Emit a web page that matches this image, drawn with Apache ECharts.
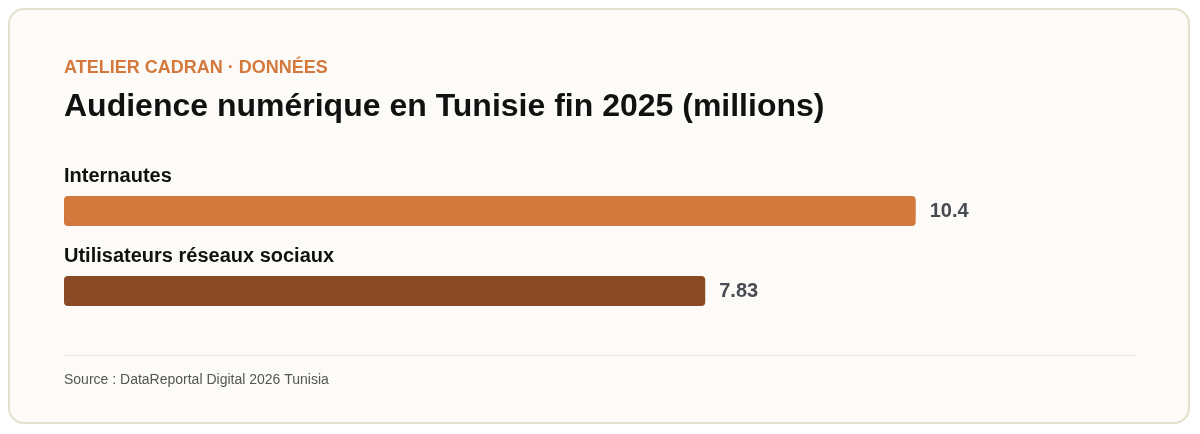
<!DOCTYPE html>
<html>
<head>
<meta charset="utf-8">
<script src="https://cdn.jsdelivr.net/npm/echarts@6/dist/echarts.min.js"></script>
<style>
  html, body { margin: 0; padding: 0; background: #ffffff; }
  #card {
    position: absolute; left: 8px; top: 8px; width: 1182px; height: 416px;
    border: 2px solid #e3dfcc; border-radius: 16px; background: #fcfbf7;
    box-sizing: border-box; overflow: hidden;
  }
  #chart { position: absolute; left: -10px; top: -10px; width: 1200px; height: 434px; }
</style>
</head>
<body>
<div id="card"><div id="chart"></div></div>
<script>
const categories = ["Internautes", "Utilisateurs réseaux sociaux"];
const values = [10.4, 7.83];
const barColors = ["#d4793d", "#8b4a26"];

const chart = echarts.init(document.getElementById("chart"));
const font = "Liberation Sans, Arial, sans-serif";

chart.setOption({
  animation: false,
  grid: { left: 64, top: 171, width: 1072, height: 160 },
  xAxis: { type: "value", min: 0, max: 13.09, show: false },
  yAxis: { type: "category", data: categories, inverse: true, show: false },
  series: [
    {
      type: "bar",
      barWidth: 30,
      data: values.map((v, i) => ({
        value: v,
        itemStyle: { color: barColors[i], borderRadius: 4 },
      })),
      label: {
        show: true,
        position: "right",
        distance: 14,
        color: "#474c52",
        fontSize: 20,
        fontWeight: "bold",
        fontFamily: font,
      },
    },
    {
      type: "bar",
      barWidth: 30,
      barGap: "-100%",
      silent: true,
      data: values,
      itemStyle: { color: "transparent" },
      label: {
        show: true,
        position: [0, -30],
        formatter: "{b}",
        color: "#111111",
        fontSize: 20,
        fontWeight: "bold",
        fontFamily: font,
      },
    },
  ],
  graphic: [
    {
      type: "text", left: 64, top: 59,
      style: {
        text: "ATELIER CADRAN · DONNÉES", fill: "#d4793d",
        font: "bold 18px " + font,
      },
    },
    {
      type: "text", left: 64, top: 91,
      style: {
        text: "Audience numérique en Tunisie fin 2025 (millions)", fill: "#111111",
        font: "bold 32px " + font,
      },
    },
    {
      type: "line",
      shape: { x1: 64, y1: 355.5, x2: 1136, y2: 355.5 },
      style: { stroke: "#e8e4d4", lineWidth: 1 },
    },
    {
      type: "text", left: 64, top: 373,
      style: {
        text: "Source : DataReportal Digital 2026 Tunisia", fill: "#555555",
        font: "14px " + font,
      },
    },
  ],
});
</script>
</body>
</html>
